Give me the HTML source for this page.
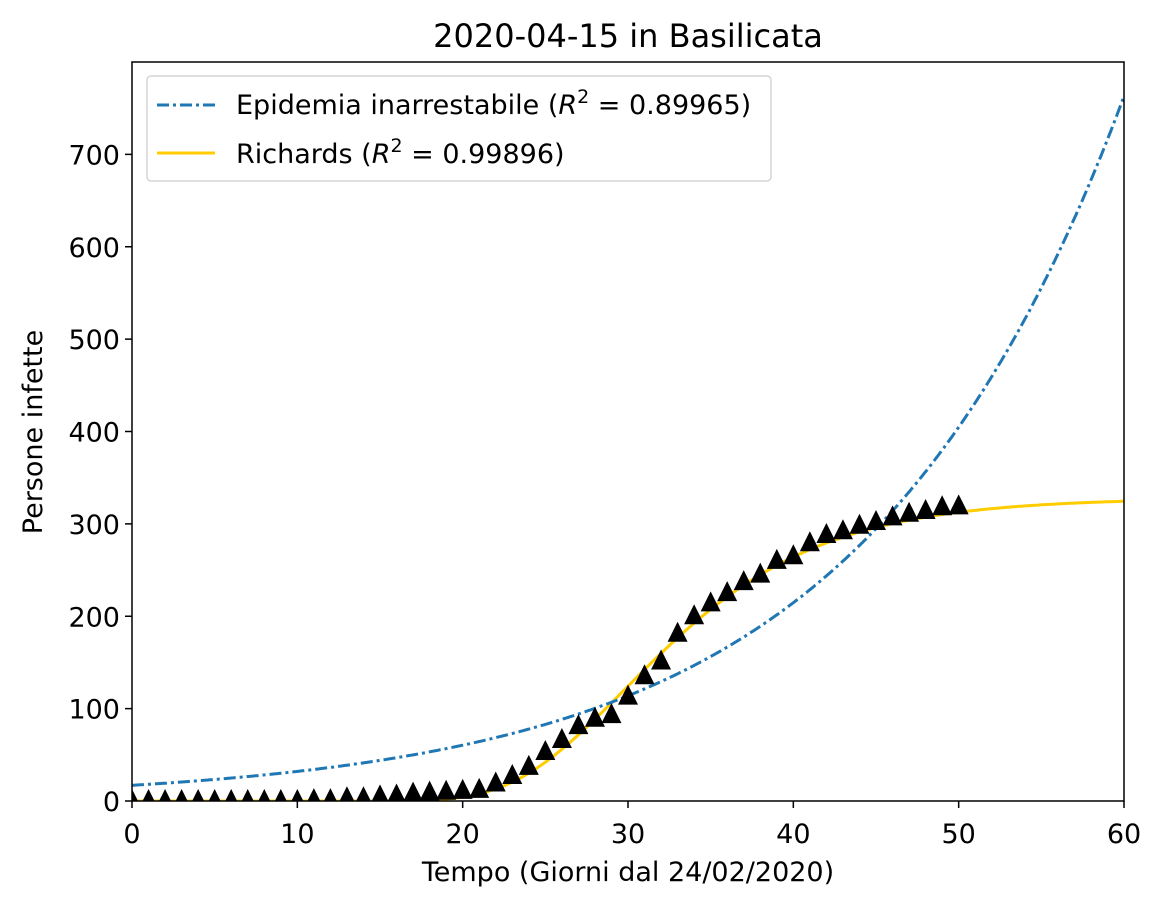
<!DOCTYPE html>
<html><head><meta charset="utf-8"><style>
body{margin:0;background:#fff;}
svg text{font-family:"DejaVu Sans","Liberation Sans",sans-serif;fill:#000;}
</style></head><body>
<svg id="chart" width="1161" height="908" xmlns="http://www.w3.org/2000/svg">
<rect width="1161" height="908" fill="#fff"/>
<text x="628" y="47" font-size="32" text-anchor="middle">2020-04-15 in Basilicata</text>
<g id="plot"></g>
<text x="628" y="881" font-size="27" text-anchor="middle">Tempo (Giorni dal 24/02/2020)</text>
<text transform="translate(42,432) rotate(-90)" font-size="27" text-anchor="middle">Persone infette</text>
<g>
<rect x="147" y="76" width="624" height="105" rx="4" fill="#fff" stroke="#d5d5d5" stroke-width="1.5"/>
<line x1="157" y1="105" x2="215" y2="105" stroke="#1f77b4" stroke-width="3" stroke-dasharray="12,4,3,4"/>
<text x="236" y="114" font-size="27">Epidemia inarrestabile (<tspan font-style="italic">R</tspan><tspan dy="-11" font-size="19">2</tspan><tspan dy="11"> = 0.89965)</tspan></text>
<line x1="157" y1="153" x2="215" y2="153" stroke="#ffcc00" stroke-width="3"/>
<text x="236" y="163" font-size="27">Richards (<tspan font-style="italic">R</tspan><tspan dy="-11" font-size="19">2</tspan><tspan dy="11"> = 0.99896)</tspan></text>
</g>
</svg>
<script>
const days=[0,1,2,3,4,5,6,7,8,9,10,11,12,13,14,15,16,17,18,19,20,21,22,23,24,25,26,27,28,29,30,31,32,33,34,35,36,37,38,39,40,41,42,43,44,45,46,47,48,49,50];
const cases=[0,0,0,0,0,0,0,0,0,0,0,1,1,3,3,5,6,8,9,10,11,12,19,27,37,53,66,81,89,93,113,135,151,181,200,214,225,237,245,260,265,279,288,292,298,302,307,311,314,318,319];
const xTicks=[0,10,20,30,40,50,60];
const yTicks=[0,100,200,300,400,500,600,700];
const expA=17, expB=0.0634;
const richK=328, richR=0.15, richT0=29.8;
const NS="http://www.w3.org/2000/svg";
const X0=132,X1=1124,Y0=801,Y1=62;
const xs=v=>X0+(v-0)/(60-0)*(X1-X0);
const ys=v=>Y0-(v/800)*(Y0-Y1);
const g=document.getElementById('plot');
function mk(t,a){const e=document.createElementNS(NS,t);for(const k in a)e.setAttribute(k,a[k]);g.appendChild(e);return e;}
const clip=mk('clipPath',{id:'c'});const cr=document.createElementNS(NS,'rect');
cr.setAttribute('x',X0);cr.setAttribute('y',Y1);cr.setAttribute('width',X1-X0);cr.setAttribute('height',Y0-Y1);clip.appendChild(cr);
let pe='',pr='';
for(let i=0;i<=600;i++){const t=i/10;
 pe+=(i?'L':'M')+xs(t).toFixed(1)+','+ys(expA*Math.exp(expB*t)).toFixed(1);
 pr+=(i?'L':'M')+xs(t).toFixed(1)+','+ys(richK*Math.exp(-Math.exp(-richR*(t-richT0)))).toFixed(1);}
const lr=mk('path',{d:pr,fill:'none',stroke:'#ffcc00','stroke-width':3,'clip-path':'url(#c)'});


const le=mk('path',{d:pe,fill:'none',stroke:'#1f77b4','stroke-width':3,'stroke-dasharray':'12,4,3,4','clip-path':'url(#c)'});


days.forEach((d,i)=>{const cx=xs(d),cy=ys(cases[i]);
 const p=mk('path',{d:`M${cx},${cy-12}L${cx+10},${cy+8}L${cx-10},${cy+8}Z`,fill:'#000','clip-path':'url(#c)'});
 
 });
const fr=mk('rect',{x:X0,y:Y1,width:X1-X0,height:Y0-Y1,fill:'none',stroke:'#000','stroke-width':1.5});


xTicks.forEach(v=>{mk('line',{x1:xs(v),x2:xs(v),y1:Y0,y2:Y0+7,stroke:'#000','stroke-width':1.5});
 const t=mk('text',{x:xs(v),y:Y0+42,'font-size':27,'text-anchor':'middle'});t.textContent=v;
 
 });
yTicks.forEach(v=>{mk('line',{x1:X0-7,x2:X0,y1:ys(v),y2:ys(v),stroke:'#000','stroke-width':1.5});
 const t=mk('text',{x:X0-12,y:ys(v)+10,'font-size':27,'text-anchor':'end'});t.textContent=v;
 
 });
</script>
</body></html>
